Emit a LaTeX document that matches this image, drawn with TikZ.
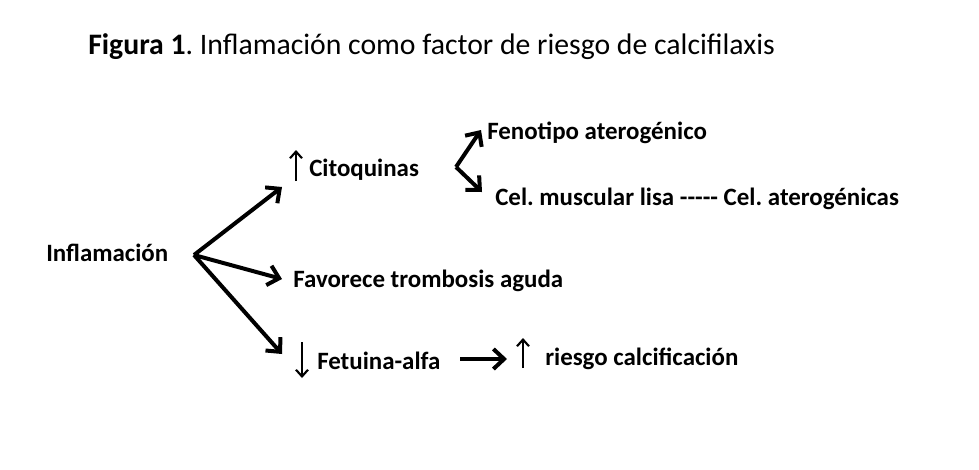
\documentclass[tikz,border=0pt]{standalone}
\usepackage{fontspec}
\setmainfont{Carlito}
\usetikzlibrary{arrows.meta}
\frenchspacing
\begin{document}
\begin{tikzpicture}[x=0.75pt,y=-0.75pt,
  lbl/.style={anchor=base west,inner sep=0pt,font=\fontsize{18.7}{22}\selectfont\bfseries},
  big/.style={line width=3pt,-{Straight Barb[length=8pt,width=15pt,line width=3pt]}},
  small/.style={line width=1.6pt,-{Straight Barb[length=5pt,width=9pt,line width=1.6pt]}}]
\useasboundingbox[fill=white] (0,0) rectangle (979,469);
\node[anchor=base west,inner sep=0pt,font=\fontsize{22.3}{26}\selectfont] (title) at (88,54) {\textbf{Figura 1}. Inflamación como factor de riesgo de calcifilaxis};
\node[lbl] (infl) at (46,261) {Inflamación};
\node[lbl] (cito) at (309,176) {Citoquinas};
\node[lbl] (feno) at (487,139) {Fenotipo aterogénico};
\node[lbl] (cel) at (495,205) {Cel. muscular lisa -{}-{}-{}-{}- Cel. aterogénicas};
\node[lbl] (trom) at (293,287) {Favorece trombosis aguda};
\node[lbl] (fetu) at (317,369) {Fetuina-alfa};
\node[lbl] (ries) at (545,365) {riesgo calcificación};
\coordinate (o) at (194,255);
\coordinate (v) at (456,167);
\coordinate (fa) at (460,359);
\coordinate (fb) at (507,359);
\draw[big] (o) -- (282,187);
\draw[big] (o) -- (282,279);
\draw[big] (o) -- (282,354);
\draw[big] (v) -- (481,130);
\draw[big] (v) -- (482,192);
\draw[big] (fa) -- (fb);
\draw[small] ([shift={(-13,5)}]cito.base west) -- ++(0,-31);
\draw[small] ([shift={(-15,-27)}]fetu.base west) -- ++(0,36);
\draw[small] ([shift={(-22,3)}]ries.base west) -- ++(0,-30);
\end{tikzpicture}
\end{document}
